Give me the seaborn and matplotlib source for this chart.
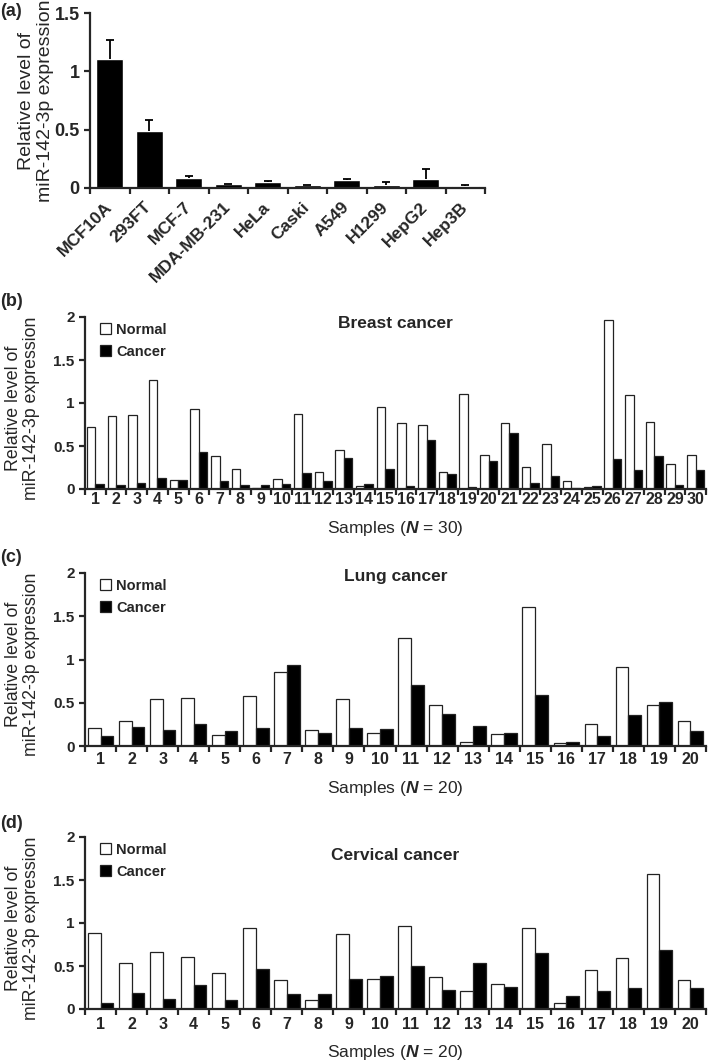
import numpy as np
import pandas as pd
import matplotlib
matplotlib.use('Agg')
import matplotlib.pyplot as plt
import seaborn as sns
from matplotlib.ticker import FixedLocator

sns.set_style('ticks')
plt.rcParams['font.family'] = ['Liberation Sans', 'DejaVu Sans']
plt.rcParams['font.weight'] = 'bold'
plt.rcParams['mathtext.fontset'] = 'custom'
plt.rcParams['mathtext.it'] = 'Liberation Sans:bold:italic'
plt.rcParams['mathtext.rm'] = 'Liberation Sans:bold'

# (a) cell lines
cell_lines = ['MCF10A', '293FT', 'MCF-7', 'MDA-MB-231', 'HeLa', 'Caski',
              'A549', 'H1299', 'HepG2', 'Hep3B']
cell_means = [1.11, 0.49, 0.09, 0.035, 0.055, 0.025, 0.07, 0.025, 0.08, 0.015]
cell_errs = [0.16, 0.09, 0.01, 0.003, 0.005, 0.005, 0.01, 0.025, 0.08, 0.015]

# (b) breast cancer, 30 pairs
breast_normal = [0.72, 0.85, 0.86, 1.27, 0.10, 0.93, 0.38, 0.23, 0.01, 0.12,
                 0.87, 0.20, 0.45, 0.03, 0.95, 0.77, 0.74, 0.20, 1.10, 0.39,
                 0.77, 0.26, 0.52, 0.09, 0.02, 1.96, 1.09, 0.78, 0.29, 0.40]
breast_cancer = [0.06, 0.05, 0.07, 0.13, 0.10, 0.43, 0.09, 0.05, 0.05, 0.06,
                 0.19, 0.09, 0.36, 0.06, 0.23, 0.04, 0.57, 0.17, 0.02, 0.32,
                 0.65, 0.07, 0.15, 0.01, 0.04, 0.35, 0.22, 0.38, 0.05, 0.22]

# (c) lung cancer, 20 pairs
lung_normal = [0.21, 0.29, 0.54, 0.56, 0.13, 0.58, 0.85, 0.18, 0.54, 0.15,
               1.25, 0.47, 0.05, 0.14, 1.61, 0.04, 0.25, 0.91, 0.47, 0.29]
lung_cancer = [0.12, 0.22, 0.18, 0.25, 0.17, 0.21, 0.94, 0.15, 0.21, 0.20,
               0.71, 0.37, 0.23, 0.15, 0.59, 0.05, 0.12, 0.36, 0.51, 0.17]

# (d) cervical cancer, 20 pairs
cervical_normal = [0.88, 0.54, 0.66, 0.60, 0.42, 0.94, 0.34, 0.10, 0.87, 0.35,
                   0.97, 0.37, 0.21, 0.29, 0.94, 0.07, 0.45, 0.59, 1.57, 0.34]
cervical_cancer = [0.07, 0.19, 0.12, 0.28, 0.11, 0.46, 0.17, 0.17, 0.35, 0.38,
                   0.50, 0.22, 0.53, 0.26, 0.65, 0.15, 0.21, 0.25, 0.69, 0.24]

ylab = 'Relative level of\nmiR-142-3p expression'
W, H = 709, 1062


def box(left, right, top, bottom):
    return [left / W, 1 - bottom / H, (right - left) / W, (bottom - top) / H]


def style_axis(ax, n, ymax, yticks, lw=1.6):
    ax.set_xlim(-0.5, n - 0.5)
    ax.set_ylim(0, ymax)
    ax.set_yticks(yticks)
    ax.set_yticklabels([f'{t:g}' for t in yticks])
    ax.xaxis.set_minor_locator(FixedLocator(np.arange(-0.5, n, 1)))
    ax.tick_params(axis='x', which='major', length=0)
    ax.tick_params(axis='x', which='minor', length=4, width=lw, direction='out')
    ax.tick_params(axis='y', length=4, width=lw, direction='out')
    sns.despine(ax=ax)
    for s in ['left', 'bottom']:
        ax.spines[s].set_linewidth(lw)


fig = plt.figure(figsize=(W / 100, H / 100), dpi=100)

# ---- panel (a)
ax_a = fig.add_axes(box(90, 485, 13, 188))
sns.barplot(x=cell_lines, y=cell_means, color='black', width=0.68,
            saturation=1, errorbar=None, ax=ax_a)
# upper-only error bars
eb = ax_a.errorbar(np.arange(len(cell_lines)), cell_means,
                   yerr=[np.zeros(len(cell_errs)), cell_errs], fmt='none',
                   ecolor='black', elinewidth=1.3, capsize=3, capthick=1.3)
eb[1][0].set_visible(False)
style_axis(ax_a, len(cell_lines), 1.5, [0, 0.5, 1, 1.5])
ax_a.tick_params(axis='y', labelsize=13)
ax_a.tick_params(axis='x', which='major', labelsize=12.5, pad=12)
for lab in ax_a.get_xticklabels():
    lab.set_rotation(45)
    lab.set_ha('right')
    lab.set_va('center')
    lab.set_rotation_mode('anchor')
ax_a.set_ylabel(ylab, fontsize=14, fontweight='normal', linespacing=1.1)
ax_a.yaxis.set_label_coords(-0.092, 0.5)
fig.text(0.0, 1 - 11 / H, '(a)', fontsize=13, va='center', ha='left')

# ---- panels (b)-(d)
panels = [
    ('(b)', 'Breast cancer', breast_normal, breast_cancer, 317, 489, 301, 0.965, 528, 2),
    ('(c)', 'Lung cancer', lung_normal, lung_cancer, 573, 746, 558, 0.977, 789, 4),
    ('(d)', 'Cervical cancer', cervical_normal, cervical_cancer, 837, 1009, 824, 0.895, 1052, 6),
]

for tag, title, normal, cancer, top, bottom, tag_y, title_y, xlab_y, pad in panels:
    n = len(normal)
    samples = [str(i) for i in range(1, n + 1)]
    df = pd.DataFrame({
        'Sample': samples * 2,
        'Level': normal + cancer,
        'Type': ['Normal'] * n + ['Cancer'] * n,
    })
    ax = fig.add_axes(box(85, 706, top, bottom))
    sns.barplot(data=df, x='Sample', y='Level', hue='Type', order=samples,
                hue_order=['Normal', 'Cancer'],
                palette={'Normal': 'white', 'Cancer': 'black'},
                edgecolor='#222222', linewidth=0.9, width=0.82, gap=0,
                saturation=1, errorbar=None, ax=ax)
    style_axis(ax, n, 2, [0, 0.5, 1, 1.5, 2])
    ax.tick_params(axis='y', labelsize=11)
    ax.tick_params(axis='x', which='major', labelsize=11.5, pad=pad)
    ax.set_ylabel(ylab, fontsize=12.8, fontweight='normal', linespacing=1.1)
    ax.yaxis.set_label_coords(-0.072, 0.47)
    ax.set_xlabel(f'Samples ($N$ = {n})', fontsize=12.5, va='center')
    ax.xaxis.set_label_coords(0.5, (bottom - xlab_y) / (bottom - top))
    ax.text(0.5, title_y, title, transform=ax.transAxes, ha='center',
            va='center', fontsize=12.5)
    sns.move_legend(ax, 'upper left', bbox_to_anchor=(0.015, 1.0), title=None,
                    frameon=False, handlelength=0.75, handleheight=0.75,
                    handletextpad=0.35, labelspacing=0.55, borderaxespad=0,
                    prop={'weight': 'bold', 'size': 10.5})
    fig.text(0.0, 1 - tag_y / H, tag, fontsize=13, va='center', ha='left')

fig.savefig('out.png', dpi=100)
